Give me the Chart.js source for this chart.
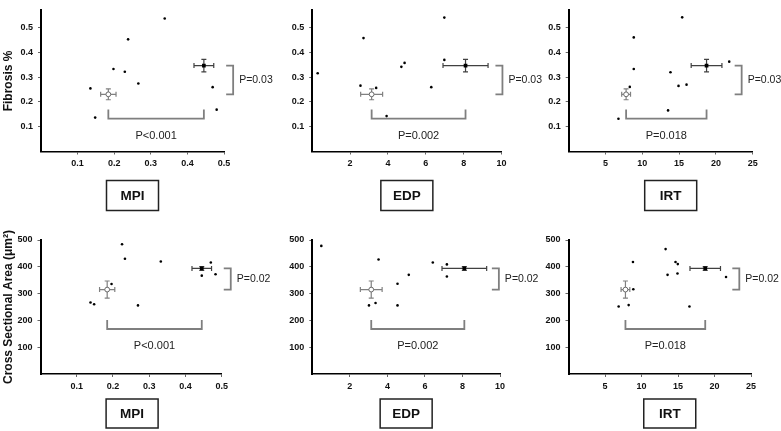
<!DOCTYPE html>
<html><head><meta charset="utf-8">
<script src="https://cdn.jsdelivr.net/npm/chart.js@4"></script>
<style>
html,body{margin:0;padding:0;background:#fff;}
body{width:781px;height:431px;position:relative;overflow:hidden;}
canvas{position:absolute;}
</style></head><body>
<canvas id="c1"></canvas><canvas id="c2"></canvas><canvas id="c3"></canvas>
<canvas id="c4"></canvas><canvas id="c5"></canvas><canvas id="c6"></canvas>
<script>
// ---------- data ----------
const mpiFibX = [0.135, 0.148, 0.198, 0.229, 0.238, 0.266, 0.338, 0.469, 0.480];
const mpiFibY = [0.255, 0.137, 0.333, 0.322, 0.453, 0.275, 0.537, 0.260, 0.169];
const edpFibX = [0.29, 2.71, 2.55, 3.38, 3.93, 4.71, 4.88, 6.29, 6.98, 6.98];
const edpFibY = [0.316, 0.458, 0.266, 0.257, 0.143, 0.342, 0.358, 0.260, 0.541, 0.370];
const irtFibX = [6.76, 8.30, 8.84, 8.84, 13.50, 13.83, 14.92, 15.42, 16.01, 21.81];
const irtFibY = [0.132, 0.261, 0.461, 0.333, 0.166, 0.320, 0.265, 0.542, 0.270, 0.363];
const mpiCsaX = [0.138, 0.148, 0.196, 0.225, 0.233, 0.269, 0.332, 0.445, 0.470, 0.483];
const mpiCsaY = [267, 260, 336, 484, 430, 256, 420, 367, 416, 372];
const edpCsaX = [0.48, 3.53, 3.02, 3.37, 4.54, 4.54, 5.14, 6.42, 7.17, 7.17];
const edpCsaY = [478, 427, 256, 265, 337, 256, 370, 416, 409, 364];
const irtCsaX = [6.87, 8.24, 8.83, 8.88, 13.30, 13.57, 14.66, 14.97, 14.93, 16.57, 21.58];
const irtCsaY = [252, 257, 418, 316, 466, 370, 418, 410, 375, 252, 362];

// group means (open group, filled group) and their SEM
const fibMean = [0.231, 0.347]; const fibSem = [0.022, 0.025];
const csaMean = [315, 394];     const csaSem = [32, 7];
const mpiMean = [0.184, 0.445]; const mpiSem = [0.021, 0.027];
const edpMean = [3.14, 8.10];   const edpSem = [0.58, 1.19];
const irtMean = [7.80, 18.73];  const irtSem = [0.60, 2.09];

// tick labels
const fibTicks = [0.1, 0.2, 0.3, 0.4, 0.5];
const csaTicks = [100, 200, 300, 400, 500];
const mpiTicks = [0.1, 0.2, 0.3, 0.4, 0.5];
const edpTicks = [2, 4, 6, 8, 10];
const irtTicks = [5, 10, 15, 20, 25];

// labels / p-values
const xNames = ['MPI', 'EDP', 'IRT'];
const yTitles = ['Fibrosis %', 'Cross Sectional Area (\u03bcm\u00b2)'];
const pBetweenGroupsX = ['P<0.001', 'P=0.002', 'P=0.018'];
const pFib = 'P=0.03';
const pCsa = 'P=0.02';

// ---------- drawing ----------
const FONT = "'Liberation Sans', Arial, sans-serif";

function annotPlugin(p) {
  return {
    id: 'annot' + p.id,
    beforeDatasetsDraw(chart) {
      const ctx = chart.ctx, xs = chart.scales.x, ys = chart.scales.y;
      ctx.save();
      for (let i = 0; i < 2; i++) {
        const col = i === 0 ? '#808080' : '#404040';
        ctx.strokeStyle = col; ctx.lineWidth = 1.2;
        const cx = xs.getPixelForValue(p.mx[i]), cy = ys.getPixelForValue(p.my[i]);
        const x1 = xs.getPixelForValue(p.mx[i] - p.sx[i]), x2 = xs.getPixelForValue(p.mx[i] + p.sx[i]);
        const y1 = ys.getPixelForValue(p.my[i] - p.sy[i]), y2 = ys.getPixelForValue(p.my[i] + p.sy[i]);
        const c = 2.5;
        ctx.beginPath();
        ctx.moveTo(x1, cy); ctx.lineTo(x2, cy);
        ctx.moveTo(x1, cy - c); ctx.lineTo(x1, cy + c);
        ctx.moveTo(x2, cy - c); ctx.lineTo(x2, cy + c);
        ctx.moveTo(cx, y1); ctx.lineTo(cx, y2);
        ctx.moveTo(cx - c, y1); ctx.lineTo(cx + c, y1);
        ctx.moveTo(cx - c, y2); ctx.lineTo(cx + c, y2);
        ctx.stroke();
      }
      ctx.restore();
    },
    afterDraw(chart) {
      const ctx = chart.ctx, xs = chart.scales.x, ys = chart.scales.y, a = chart.chartArea;
      ctx.save();
      ctx.strokeStyle = '#7f7f7f'; ctx.lineWidth = 1.8;
      const hy = ys.getPixelForValue(p.hLevel);
      const hx1 = xs.getPixelForValue(p.mx[0]), hx2 = xs.getPixelForValue(p.mx[1]);
      ctx.beginPath();
      ctx.moveTo(hx1, hy - 9); ctx.lineTo(hx1, hy); ctx.lineTo(hx2, hy); ctx.lineTo(hx2, hy - 9);
      ctx.stroke();
      ctx.fillStyle = '#222'; ctx.font = '11px ' + FONT;
      ctx.textAlign = 'center'; ctx.textBaseline = 'middle';
      ctx.fillText(p.pBottom, (hx1 + hx2) / 2, hy + 17);
      const vx = xs.getPixelForValue(p.vX);
      const vy1 = ys.getPixelForValue(p.my[1]), vy2 = ys.getPixelForValue(p.my[0]);
      ctx.beginPath();
      ctx.moveTo(vx - 7, vy1); ctx.lineTo(vx, vy1); ctx.lineTo(vx, vy2); ctx.lineTo(vx - 7, vy2);
      ctx.stroke();
      ctx.font = '10.5px ' + FONT; ctx.textAlign = 'left';
      ctx.fillText(p.pRight, vx + 6, (vy1 + vy2) / 2);
      const bw = 52, bh = p.boxH;
      const bcx = (a.left + a.right) / 2 + p.boxDx;
      const bt = a.bottom + p.boxDy;
      ctx.strokeStyle = '#222'; ctx.lineWidth = 1.5;
      ctx.strokeRect(bcx - bw / 2, bt, bw, bh);
      ctx.font = 'bold 13.5px ' + FONT; ctx.textAlign = 'center'; ctx.fillStyle = '#111';
      ctx.fillText(p.name, bcx, bt + bh / 2 + 1);
      ctx.restore();
    }
  };
}

function makePanel(p) {
  const cv = document.getElementById(p.id);
  cv.width = p.cw; cv.height = p.ch;
  cv.style.left = p.cl + 'px'; cv.style.top = p.ct + 'px';
  cv.style.width = p.cw + 'px'; cv.style.height = p.ch + 'px';
  const pts = p.xs.map((v, i) => ({ x: v, y: p.ys[i] }));
  const tickFont = { family: FONT, size: 9, weight: 'bold' };
  new Chart(cv, {
    type: 'scatter',
    data: {
      datasets: [
        { data: pts, pointRadius: 1.3, pointBackgroundColor: '#000', pointBorderWidth: 0 },
        { data: [{ x: p.mx[0], y: p.my[0] }], pointRadius: 2.4, pointBackgroundColor: '#fff', pointBorderColor: '#6a6a6a', pointBorderWidth: 1 },
        { data: [{ x: p.mx[1], y: p.my[1] }], pointStyle: 'rect', pointRadius: 2.6, pointBackgroundColor: '#000', pointBorderColor: '#000', pointBorderWidth: 0 }
      ]
    },
    options: {
      responsive: false, animation: false, devicePixelRatio: 1,
      layout: { padding: { left: 0, top: p.aT - p.ct, right: p.cl + p.cw - p.aR, bottom: 0 } },
      plugins: { legend: { display: false }, tooltip: { enabled: false } },
      scales: {
        x: {
          type: 'linear', min: p.xMin, max: p.xMax,
          afterBuildTicks: s => { s.ticks = p.xTicks.map(v => ({ value: v })); },
          afterFit: s => { s.height = p.ct + p.ch - p.aB; },
          ticks: { font: tickFont, color: '#111', padding: 4, maxRotation: 0, callback: v => String(v) },
          grid: { display: true, drawOnChartArea: false, drawTicks: true, tickLength: 3, color: '#666', lineWidth: 1 },
          border: { display: true, color: '#000', width: 1.6 }
        },
        y: {
          type: 'linear', min: p.yMin, max: p.yMax,
          afterBuildTicks: s => { s.ticks = p.yTicks.map(v => ({ value: v })); },
          afterFit: s => { s.width = p.aL - p.cl; },
          ticks: { font: tickFont, color: '#111', padding: 5, callback: v => String(v) },
          grid: { display: true, drawOnChartArea: false, drawTicks: true, tickLength: 3, color: '#666', lineWidth: 1 },
          border: { display: true, color: '#000', width: 2 },
          title: { display: !!p.yTitle, text: p.yTitle || '', font: { family: FONT, size: 12, weight: 'bold' }, color: '#111', padding: { top: 1, bottom: 0 } }
        }
      }
    },
    plugins: [annotPlugin(p)]
  });
}

const rowTop = { ct: 0, ch: 215, aT: 0, aB: 151.5, yMin: 0, yMax: 0.57, yTicks: fibTicks, my: fibMean, sy: fibSem, hLevel: 0.133, pRight: pFib, boxDy: 29, boxH: 30 };
const rowBot = { ct: 215, ch: 216, aT: 240, aB: 374, yMin: 0, yMax: 500, yTicks: csaTicks, my: csaMean, sy: csaSem, hLevel: 168, pRight: pCsa, boxDy: 25, boxH: 29 };

const panels = [
  Object.assign({}, rowTop, { id: 'c1', cl: 0, cw: 290, aL: 41, aR: 224, xMin: 0, xMax: 0.5, xTicks: mpiTicks, xs: mpiFibX, ys: mpiFibY, mx: mpiMean, sx: mpiSem, vX: 0.525, pBottom: pBetweenGroupsX[0], name: xNames[0], boxDx: 0, yTitle: yTitles[0] }),
  Object.assign({}, rowTop, { id: 'c2', cl: 260, cw: 290, aL: 312.2, aR: 501.5, xMin: 0, xMax: 10, xTicks: edpTicks, xs: edpFibX, ys: edpFibY, mx: edpMean, sx: edpSem, vX: 10.05, pBottom: pBetweenGroupsX[1], name: xNames[1], boxDx: 0 }),
  Object.assign({}, rowTop, { id: 'c3', cl: 520, cw: 261, aL: 568.7, aR: 752.7, xMin: 0, xMax: 25, xTicks: irtTicks, xs: irtFibX, ys: irtFibY, mx: irtMean, sx: irtSem, vX: 23.5, pBottom: pBetweenGroupsX[2], name: xNames[2], boxDx: 10 }),
  Object.assign({}, rowBot, { id: 'c4', cl: 0, cw: 290, aL: 40.5, aR: 221.7, xMin: 0, xMax: 0.5, xTicks: mpiTicks, xs: mpiCsaX, ys: mpiCsaY, mx: mpiMean, sx: mpiSem, vX: 0.525, pBottom: pBetweenGroupsX[0], name: xNames[0], boxDx: 1, yTitle: yTitles[1] }),
  Object.assign({}, rowBot, { id: 'c5', cl: 260, cw: 290, aL: 312.3, aR: 500, xMin: 0, xMax: 10, xTicks: edpTicks, xs: edpCsaX, ys: edpCsaY, mx: edpMean, sx: edpSem, vX: 9.94, pBottom: pBetweenGroupsX[1], name: xNames[1], boxDx: 0 }),
  Object.assign({}, rowBot, { id: 'c6', cl: 520, cw: 261, aL: 568.5, aR: 751, xMin: 0, xMax: 25, xTicks: irtTicks, xs: irtCsaX, ys: irtCsaY, mx: irtMean, sx: irtSem, vX: 23.4, pBottom: pBetweenGroupsX[2], name: xNames[2], boxDx: 10 })
];
panels.forEach(makePanel);
</script>
</body></html>
